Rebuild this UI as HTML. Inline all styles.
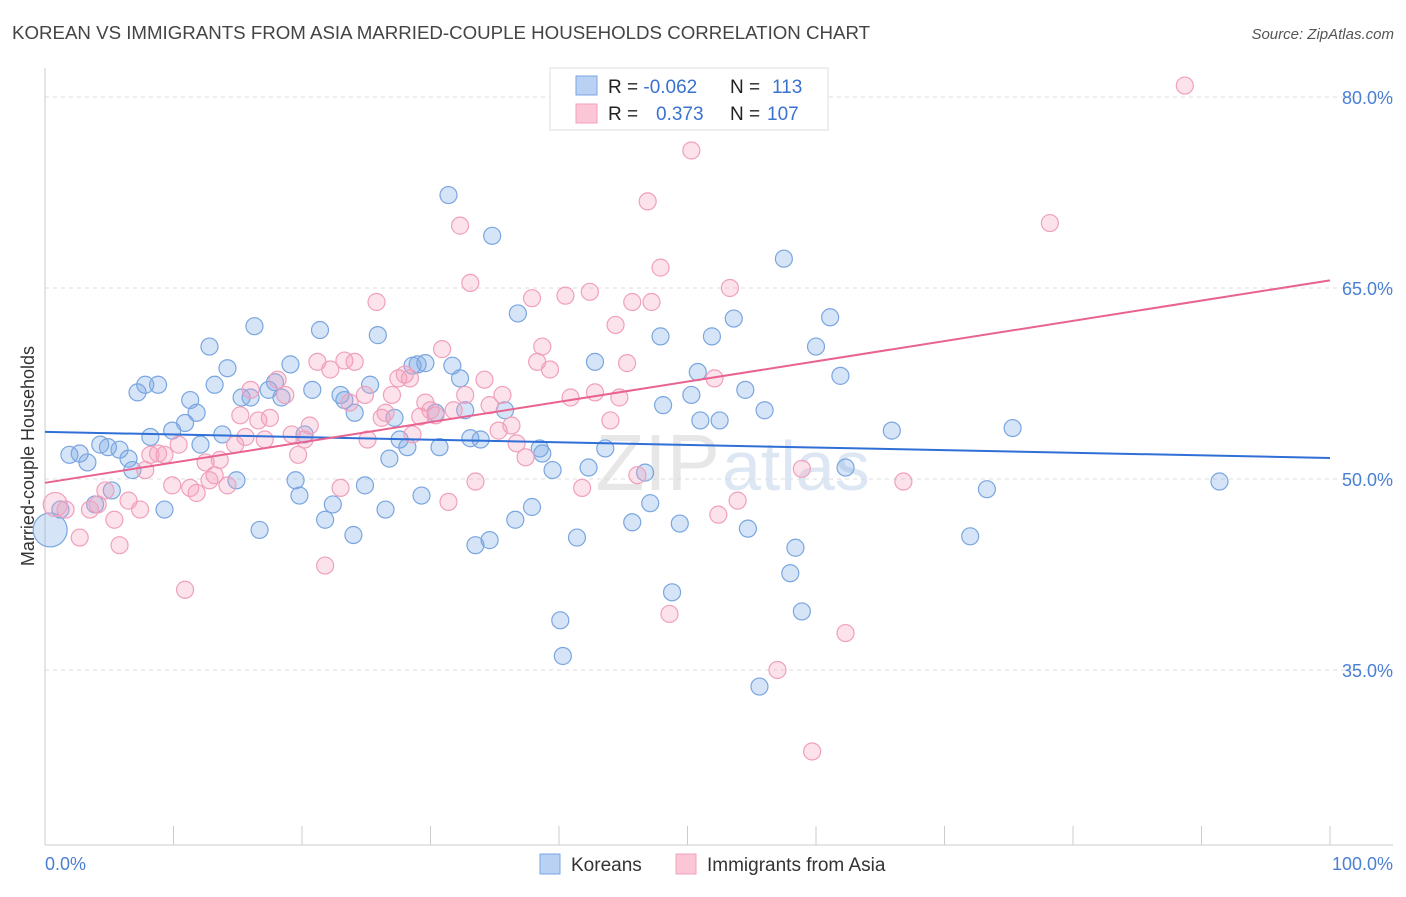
<!DOCTYPE html>
<html><head><meta charset="utf-8"><style>
body{margin:0;background:#fff;font-family:"Liberation Sans",sans-serif;}
svg text{font-family:"Liberation Sans",sans-serif;}
</style></head><body>
<svg id="chart" width="1406" height="892" viewBox="0 0 1406 892">
<text x="12" y="39" font-size="18.7" fill="#444">KOREAN VS IMMIGRANTS FROM ASIA MARRIED-COUPLE HOUSEHOLDS CORRELATION CHART</text>
<text x="1394" y="39" font-size="15" fill="#555" font-style="italic" text-anchor="end">Source: ZipAtlas.com</text>
<text x="34" y="456" font-size="18" fill="#333" text-anchor="middle" transform="rotate(-90 34 456)">Married-couple Households</text>
<g id="grid"></g>
<text x="720" y="490" font-size="80" fill="#d8d8d8" text-anchor="end" font-family="Liberation Serif" opacity="0.6">ZIP</text>
<text x="722" y="490" font-size="70" fill="#c8d8ee" opacity="0.6">atlas</text>
<g id="marks"></g>
<g>
<rect x="550" y="68" width="278" height="62" fill="#fff" stroke="#ddd"/>
<rect x="576" y="76" width="21" height="19" fill="#b9d2f4" stroke="#7aa6e0"/>
<rect x="576" y="104" width="21" height="19" fill="#fbc6d6" stroke="#f0a0bc"/>
<text x="608" y="93" font-size="19" fill="#222">R = <tspan fill="#3a72d0">-0.062</tspan><tspan x="730">N = </tspan><tspan x="772" fill="#3a72d0">113</tspan></text>
<text x="608" y="120" font-size="19" fill="#222">R = <tspan x="656" fill="#3a72d0">0.373</tspan><tspan x="730">N = </tspan><tspan x="767" fill="#3a72d0">107</tspan></text>
</g>
<g>
<rect x="540" y="854" width="20" height="20" fill="#b9d2f4" stroke="#7aa6e0"/>
<text x="571" y="871" font-size="19" fill="#333">Koreans</text>
<rect x="676" y="854" width="20" height="20" fill="#fbc6d6" stroke="#f0a0bc"/>
<text x="707" y="871" font-size="19" fill="#333">Immigrants from Asia</text>
</g>
</svg>
<script>
const yTicks=[35,50,65,80];
const yTickLabels=["35.0%","50.0%","65.0%","80.0%"];
const xTickLabels=["0.0%","100.0%"];
const blueX=[0.4,1.9,2.7,3.3,4.3,4.9,5.8,6.5,6.8,5.2,3.9,1.2,7.2,7.8,8.8,8.2,9.3,9.9,10.9,11.3,11.8,12.1,12.8,13.2,13.8,14.2,14.9,15.3,16.0,16.3,16.7,17.4,17.9,18.4,19.1,19.5,19.8,20.2,20.8,21.4,21.8,22.4,23.0,23.3,24.0,24.1,24.9,25.3,25.9,26.5,26.8,27.2,27.6,28.2,28.6,29.0,29.6,29.3,30.4,30.7,31.4,31.7,32.3,32.7,33.1,33.5,33.9,34.6,34.8,35.8,36.6,36.8,37.9,38.5,38.7,39.5,40.1,40.3,41.4,42.3,42.8,43.6,45.7,46.7,47.1,47.9,48.1,48.8,49.4,50.3,50.8,51.0,51.9,52.5,53.6,54.5,54.7,56.0,55.6,57.5,58.0,58.4,58.9,60.0,61.1,61.9,62.3,65.9,73.3,72.0,75.3,91.4];
const blueY=[46.0,51.9,52.0,51.3,52.7,52.5,52.3,51.6,50.7,49.1,48.0,47.6,56.8,57.4,57.4,53.3,47.6,53.8,54.4,56.2,55.2,52.7,60.4,57.4,53.5,58.7,49.9,56.4,56.4,62.0,46.0,57.0,57.6,56.4,59.0,49.9,48.7,53.5,57.0,61.7,46.8,48.0,56.6,56.2,45.6,55.2,49.5,57.4,61.3,47.6,51.6,54.8,53.1,52.5,58.9,59.0,59.1,48.7,55.2,52.5,72.3,58.9,57.9,55.4,53.2,44.8,53.1,45.2,69.1,55.4,46.8,63.0,47.8,52.4,52.0,50.7,38.9,36.1,45.4,50.9,59.2,52.4,46.6,50.5,48.1,61.2,55.8,41.1,46.5,56.6,58.4,54.6,61.2,54.6,62.6,57.0,46.1,55.4,33.7,67.3,42.6,44.6,39.6,60.4,62.7,58.1,50.9,53.8,49.2,45.5,54.0,49.8];
const pinkX=[0.8,1.6,2.7,3.5,4.1,4.7,5.4,5.8,6.5,7.4,7.8,8.2,8.8,9.3,9.9,10.4,10.9,11.3,11.8,12.5,12.8,13.2,13.6,14.2,14.8,15.2,15.6,16.0,16.6,17.1,17.5,18.1,18.7,19.2,19.7,20.2,20.6,21.2,21.8,22.2,23.0,23.3,23.7,24.1,24.9,25.1,25.8,26.2,26.5,27.0,27.5,28.0,28.4,28.6,29.2,29.6,30.0,30.4,30.9,31.4,31.8,32.3,32.7,33.1,33.5,34.2,34.6,35.3,35.6,36.3,36.7,37.4,37.9,38.3,38.7,39.3,40.5,40.9,41.8,42.4,42.8,44.0,44.4,44.7,45.3,45.7,46.1,46.9,47.2,47.9,48.6,50.3,52.1,52.4,53.3,53.9,57.0,58.9,59.7,62.3,66.8,78.2,88.7];
const pinkY=[48.0,47.6,45.4,47.6,48.0,49.1,46.8,44.8,48.3,47.6,50.7,51.9,52.0,51.9,49.5,52.7,41.3,49.3,48.9,51.3,49.9,50.3,51.5,49.5,52.7,55.0,53.3,57.0,54.6,53.1,54.8,57.8,56.6,53.5,51.9,53.1,54.2,59.2,43.2,58.6,49.3,59.3,56.0,59.2,56.6,53.1,63.9,54.8,55.2,56.6,57.9,58.2,57.9,53.5,54.9,56.0,55.4,55.0,60.2,48.2,55.4,69.9,56.6,65.4,49.8,57.8,55.8,53.8,56.6,54.2,52.8,51.7,64.2,59.2,60.4,58.6,64.4,56.4,49.3,64.7,56.8,54.6,62.1,56.4,59.1,63.9,50.3,71.8,63.9,66.6,39.4,75.8,57.9,47.2,65.0,48.3,35.0,50.8,28.6,37.9,49.8,70.1,80.9];
const blueTrend=[53.7,51.65];
const pinkTrend=[49.7,65.6];
const NS="http://www.w3.org/2000/svg";
const X0=45,X1=1330,Y80=97,PX=12.733;
function sx(v){return X0+(X1-X0)*v/100;}
function sy(v){return Y80+(80-v)*PX;}
function mk(tag,attrs,parent){const e=document.createElementNS(NS,tag);for(const k in attrs)e.setAttribute(k,attrs[k]);parent.appendChild(e);return e;}
const grid=document.getElementById('grid');
yTicks.forEach((t,i)=>{
  const l=mk('line',{x1:45,x2:1393,y1:sy(t),y2:sy(t),stroke:'#ddd','stroke-dasharray':'4 4'},grid);
  
  
  const tx=mk('text',{x:1393,y:sy(t)+7,'font-size':18,fill:'#4a7fd4','text-anchor':'end'},grid);
  tx.textContent=yTickLabels[i];
  
  
});
let ax=mk('line',{x1:45,x2:45,y1:68,y2:845,stroke:'#ccc'},grid);


ax=mk('line',{x1:45,x2:1393,y1:845,y2:845,stroke:'#ccc'},grid);


for(let i=0;i<=10;i++){
  const tk=mk('line',{x1:sx(i*10),x2:sx(i*10),y1:826,y2:845,stroke:'#ccc'},grid);
  
  
}
let xl=mk('text',{x:45,y:870,'font-size':18,fill:'#4a7fd4'},grid);
xl.textContent=xTickLabels[0];


xl=mk('text',{x:1393,y:870,'font-size':18,fill:'#4a7fd4','text-anchor':'end'},grid);
xl.textContent=xTickLabels[1];


const marks=document.getElementById('marks');
blueX.forEach((x,i)=>{
  const c=mk('circle',{cx:sx(x),cy:sy(blueY[i]),r:i===0?17:8.5,fill:'rgba(120,165,230,0.3)',stroke:'#7aa6e0','stroke-width':1.2},marks);
  
  
});
pinkX.forEach((x,i)=>{
  const c=mk('circle',{cx:sx(x),cy:sy(pinkY[i]),r:i===0?12:8.5,fill:'rgba(245,160,190,0.3)',stroke:'#f0a0bc','stroke-width':1.2},marks);
  
  
});
let tl=mk('line',{x1:sx(0),x2:sx(100),y1:sy(blueTrend[0]),y2:sy(blueTrend[1]),stroke:'#2f6fd6','stroke-width':2},marks);


tl=mk('line',{x1:sx(0),x2:sx(100),y1:sy(pinkTrend[0]),y2:sy(pinkTrend[1]),stroke:'#e8638f','stroke-width':2},marks);


</script>
</body></html>
